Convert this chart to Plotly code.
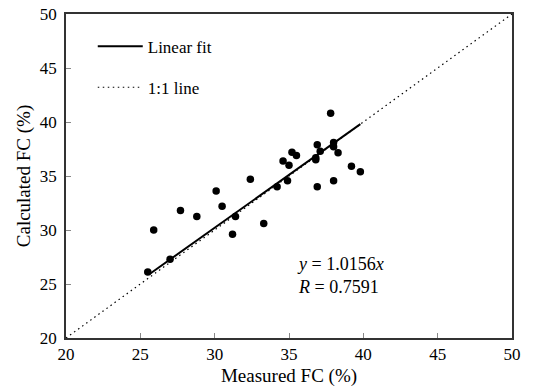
import plotly.graph_objects as go

measured = [25.5, 25.9, 27.0, 27.7, 28.8, 30.1, 30.5, 31.2, 31.4, 32.4, 33.3,
            34.2, 34.6, 34.9, 35.0, 35.2, 35.5, 36.8, 36.8, 36.9, 37.1, 36.9,
            37.8, 38.0, 38.0, 38.3, 38.0, 39.2, 39.8]
calculated = [26.1, 30.0, 27.3, 31.8, 31.25, 33.6, 32.2, 29.6, 31.25, 34.7, 30.6,
              34.0, 36.4, 34.55, 36.0, 37.2, 36.9, 36.5, 36.7, 37.9, 37.3, 34.0,
              40.8, 38.1, 37.7, 37.15, 34.55, 35.9, 35.4]

fit_x = [25.6, 39.8]
fit_y = [25.9, 39.8]
one_x = [20, 50]
one_y = [20, 50]

ticks = [20, 25, 30, 35, 40, 45, 50]
FONT = "Liberation Serif"
FS = 17
TS = 19

fig = go.Figure()
fig.add_trace(go.Scatter(x=fit_x, y=fit_y, mode="lines", name="Linear fit",
                         line=dict(color="black", width=2), legendgroup="a"))
fig.add_trace(go.Scatter(x=one_x, y=one_y, mode="lines", name="1:1 line",
                         line=dict(color="black", width=1.2, dash="1.5px,3.5px"),
                         legendgroup="b"))
fig.add_trace(go.Scatter(x=measured, y=calculated, mode="markers", showlegend=False,
                         marker=dict(color="black", size=7.5)))

axis_common = dict(range=[20, 50], tickvals=ticks, ticks="inside", ticklen=5,
                   tickcolor="#888", showline=True, linecolor="#333", linewidth=1.5,
                   mirror=True, showgrid=False, zeroline=False, automargin=False,
                   tickfont=dict(family=FONT, size=FS, color="black"))

fig.update_layout(
    width=535, height=392,
    margin=dict(l=66, r=23, t=14, b=54),
    paper_bgcolor="white", plot_bgcolor="white",
    font=dict(family=FONT, size=FS, color="black"),
    xaxis=dict(**axis_common, ticklabelstandoff=0,
               title=dict(text="Measured FC (%)", standoff=6,
                          font=dict(family=FONT, size=TS))),
    yaxis=dict(**axis_common, ticklabelstandoff=4,
               title=dict(text="Calculated FC (%)", standoff=4,
                          font=dict(family=FONT, size=TS))),
    legend=dict(x=0.06, y=0.955, xanchor="left", yanchor="top",
                bgcolor="rgba(0,0,0,0)", tracegroupgap=16, itemwidth=45,
                font=dict(family=FONT, size=FS)),
    annotations=[
        dict(x=35.4, y=25.8, xref="x", yref="y", xanchor="left", yanchor="middle",
             align="left", showarrow=False,
             text="<i>y</i> = 1.0156<i>x</i><br><i>R</i> = 0.7591",
             font=dict(family=FONT, size=18)),
    ],
)

fig.write_html("out.html", config={"displayModeBar": False},
               post_script="document.body.style.margin='0';document.body.style.overflow='hidden';")
